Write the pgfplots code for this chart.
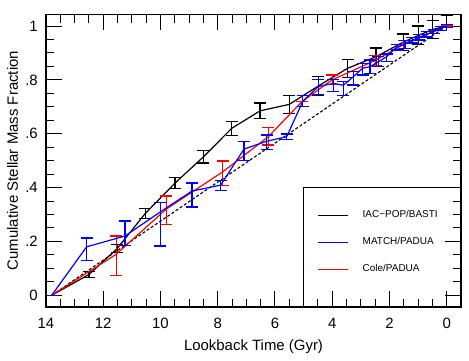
\documentclass[border=0pt]{standalone}
\usepackage{fontspec}
\setmainfont{Liberation Sans}
\usepackage{pgfplots}
\pgfplotsset{compat=1.18}
\usepackage{pgfplotstable}

\pgfplotstableread{
t f ep em
13.8 0 0 0
12.5 0.077 0.012 0.012
11.51 0.174 0.015 0.015
10.53 0.304 0.019 0.019
9.49 0.417 0.020 0.020
8.50 0.514 0.023 0.023
7.51 0.620 0.026 0.026
6.52 0.685 0.029 0.029
5.50 0.709 0.034 0.034
4.49 0.777 0.035 0.035
3.46 0.843 0.034 0.034
2.47 0.886 0.032 0.032
1.52 0.940 0.030 0.030
0.99 0.965 0.035 0.035
0.49 0.987 0.033 0.033
0.0 1.000 0.038 0.007
}\blacktab

\pgfplotstableread{
t f ep em
13.8 0 0 0
12.58 0.180 0.033 0.050
11.24 0.220 0.056 0.034
10.0 0.310 0.035 0.127
8.9 0.387 0.030 0.059
7.9 0.409 0.016 0.021
7.08 0.543 0.027 0.041
6.29 0.572 0.023 0.030
5.59 0.589 0.010 0.010
5.03 0.720 0.022 0.019
4.49 0.775 0.025 0.029
3.96 0.787 0.015 0.031
3.61 0.780 0.013 0.037
3.26 0.812 0.018 0.031
2.94 0.843 0.018 0.025
2.68 0.849 0.025 0.025
2.39 0.867 0.020 0.017
2.10 0.886 0.010 0.019
1.75 0.921 0.010 0.010
1.46 0.935 0.012 0.019
1.20 0.947 0.010 0.010
0.95 0.958 0.010 0.010
0.70 0.969 0.010 0.010
0.45 0.980 0.008 0.008
0.20 0.991 0.008 0.008
0.0 1.000 0.005 0.005
}\bluetab

\pgfplotstableread{
t f ep em
13.8 0 0 0
11.55 0.152 0.068 0.078
9.8 0.320 0.049 0.056
7.83 0.458 0.041 0.049
6.23 0.589 0.033 0.031
5.05 0.720 0 0
4.0 0.800 0.018 0.018
2.5 0.872 0.018 0.018
1.5 0.932 0.015 0.015
0.0 1.000 0 0
}\redtab

\begin{document}
\begin{tikzpicture}
\begin{axis}[
  scale only axis,
  width=415bp, height=292.7bp,
  x dir=reverse,
  xmin=-0.5, xmax=14,
  ymin=-0.0435, ymax=1.0435,
  xtick={0,2,4,6,8,10,12,14},
  xticklabels={0,2,4,6,8,10,12,14},
  ytick={0,0.2,0.4,0.6,0.8,1},
  yticklabels={0,.2,.4,.6,.8,1},
  minor x tick num=3,
  minor y tick num=3,
  tick align=inside,
  xtick pos=both, ytick pos=both,
  xticklabel pos=lower, yticklabel pos=left,
  major tick length=15.7bp,
  minor tick length=8.3bp,
  tick style={line width=1bp, black},
  axis line style={line width=1.3bp},
  tick label style={font=\fontsize{15}{18}\selectfont, inner sep=0pt},
  yticklabel style={xshift=-8bp},
  xticklabel style={yshift=-11bp},
  label style={font=\fontsize{15}{18}\selectfont},
  xlabel={Lookback Time (Gyr)},
  ylabel={Cumulative Stellar Mass Fraction},
  x label style={at={(axis description cs:0.5,-0.148)}, anchor=base},
  y label style={at={(axis description cs:-0.0675,0.5)}, anchor=base},
  legend cell align=left,
  legend image code/.code={\draw[#1] (0bp,0bp) -- (30bp,0bp);},
  legend style={at={(axis cs:4.52,0.197)}, anchor=west, draw=none, fill=none,
    inner sep=0pt, row sep=18bp, font=\fontsize{10}{12}\selectfont,
    nodes={inner sep=0pt, text height=7bp, text depth=2bp},
    /tikz/every odd column/.append style={column sep=14bp}},
]
\addplot[black, line width=1.1bp, dash pattern=on 3bp off 2bp, forget plot] coordinates {(13.8,0) (0,1)};

\addplot[black, line width=1.2bp, forget plot] table[x=t,y=f] {\blacktab};
\addplot[draw=none, mark=none, forget plot,
  error bars/.cd, y dir=both, y explicit,
  error bar style={draw=black, solid, line width=1.2bp},
  error mark options={rotate=90, draw=black, solid, line width=1.2bp, mark size=6bp}]
  table[x=t, y=f, y error plus=ep, y error minus=em] {\blacktab};

\addplot[red, line width=1.2bp, forget plot] table[x=t,y=f] {\redtab};
\addplot[draw=none, mark=none, forget plot,
  error bars/.cd, y dir=both, y explicit,
  error bar style={draw=red, solid, line width=1.2bp},
  error mark options={rotate=90, draw=red, solid, line width=1.2bp, mark size=6bp}]
  table[x=t, y=f, y error plus=ep, y error minus=em] {\redtab};

\addplot[blue, line width=1.2bp, forget plot] table[x=t,y=f] {\bluetab};
\addplot[draw=none, mark=none, forget plot,
  error bars/.cd, y dir=both, y explicit,
  error bar style={draw=blue, solid, line width=1.2bp},
  error mark options={rotate=90, draw=blue, solid, line width=1.2bp, mark size=6bp}]
  table[x=t, y=f, y error plus=ep, y error minus=em] {\bluetab};

\draw[line width=1.3bp] (axis cs:5,-0.0435) |- (axis cs:-0.5,0.4);

\addlegendimage{black, line width=1.2bp}
\addlegendentry{IAC−POP/BASTI}
\addlegendimage{blue, line width=1.2bp}
\addlegendentry{MATCH/PADUA}
\addlegendimage{red, line width=1.2bp}
\addlegendentry{Cole/PADUA}
\end{axis}
\pgfresetboundingbox
\path ([shift={(-46bp,-53.3bp)}]current axis.south west) rectangle ([shift={(8bp,14.3bp)}]current axis.north east);
\end{tikzpicture}
\end{document}
